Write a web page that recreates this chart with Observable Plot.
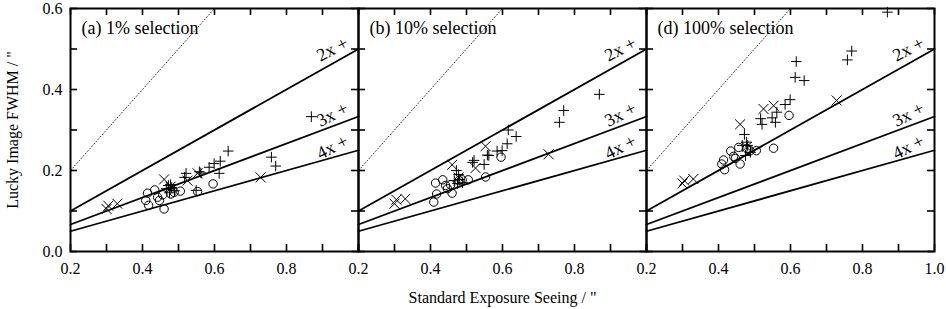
<!DOCTYPE html>
<html>
<head>
<meta charset="utf-8">
<script src="https://cdn.jsdelivr.net/npm/d3@7"></script>
<script src="https://cdn.jsdelivr.net/npm/@observablehq/plot@0.6"></script>
<style>
  html, body { margin: 0; padding: 0; background: #fff; }
  #chart svg { display: block; }
</style>
</head>
<body>
<div id="chart"></div>
<script>
// ---- Panels ----
const panels = ["a", "b", "d"];
const panelTitles = ["(a) 1% selection", "(b) 10% selection", "(d) 100% selection"];

// ---- Axes ----
const xTicks = [0.2, 0.3, 0.4, 0.5, 0.6, 0.7, 0.8, 0.9, 1.0];
const xTickLabels = [0.2, 0.4, 0.6, 0.8];
const xLastLabel = 1.0;
const yTicks = [0.0, 0.1, 0.2, 0.3, 0.4, 0.5, 0.6];
const yTickLabels = [0.0, 0.2, 0.4, 0.6];
const xTitle = 'Standard Exposure Seeing / "';
const yTitle = 'Lucky Image FWHM / "';

// ---- Reference lines (FWHM = seeing / k) ----
const factors = [2, 3, 4];
const factorLabels = ["2x +", "3x +", "4x +"];

// ---- Data: × markers ----
const crossX = [0.300, 0.305, 0.330, 0.460, 0.478, 0.525, 0.553, 0.728];
const crossA = [0.105, 0.113, 0.118, 0.178, 0.160, 0.175, 0.193, 0.183];
const crossB = [0.118, 0.128, 0.130, 0.214, 0.183, 0.206, 0.260, 0.240];
const crossD = [0.168, 0.175, 0.179, 0.314, 0.258, 0.352, 0.360, 0.373];

// ---- Data: + markers ----
const plusX = [0.869, 0.758, 0.770, 0.638, 0.616, 0.613, 0.599, 0.585, 0.562, 0.558, 0.549, 0.521, 0.517, 0.472, 0.478, 0.466, 0.481, 0.489, 0.475];
const plusA = [0.333, 0.233, 0.211, 0.248, 0.223, 0.193, 0.217, 0.208, 0.194, 0.197, 0.151, 0.193, 0.183, 0.163, 0.165, 0.155, 0.158, 0.150, 0.145];
const plusB = [0.388, 0.319, 0.348, 0.284, 0.300, 0.266, 0.249, 0.248, 0.237, 0.238, 0.215, 0.225, 0.220, 0.200, 0.190, 0.175, 0.178, 0.170, 0.168];
const plusD = [0.591, 0.473, 0.495, 0.422, 0.469, 0.430, 0.375, 0.363, 0.344, 0.319, 0.330, 0.314, 0.328, 0.289, 0.270, 0.262, 0.262, 0.245, 0.237];

// ---- Data: ○ markers ----
const circX = [0.596, 0.553, 0.414, 0.417, 0.409, 0.434, 0.442, 0.460, 0.447, 0.456, 0.479, 0.488, 0.505];
const circA = [0.167, 0.148, 0.144, 0.114, 0.126, 0.152, 0.134, 0.105, 0.126, 0.140, 0.142, 0.146, 0.149];
const circB = [0.233, 0.184, 0.169, 0.142, 0.122, 0.177, 0.163, 0.144, 0.155, 0.165, 0.175, 0.177, 0.177];
const circD = [0.336, 0.255, 0.226, 0.202, 0.216, 0.248, 0.235, 0.216, 0.230, 0.257, 0.254, 0.249, 0.249];

// ---- Build tables ----
function rows(xs, ys) {
  return xs.flatMap((x, i) => panels.map((p, j) => ({panel: p, x, y: ys[j][i]})));
}
const crossRows = rows(crossX, [crossA, crossB, crossD]);
const plusRows = rows(plusX, [plusA, plusB, plusD]);
const circRows = rows(circX, [circA, circB, circD]);

const xMin = xTicks[0], xMax = xTicks[xTicks.length - 1];
const lineRows = factors.flatMap(k => [xMin, xMax].map(x => ({k, x, y: x / k})));
const yMax = yTicks[yTicks.length - 1];
const diagRows = [xMin, yMax].map(x => ({x, y: x}));
const labelX = 0.968;
const labelRows = factors.map((k, i) => ({x: labelX, y: labelX / k + 0.034, t: factorLabels[i]}));
const titleRows = panels.map((p, i) => ({panel: p, t: panelTitles[i]}));

// ---- Layout ----
const W = 946, H = 309;
const mL = 70, mR = 12, mT = 8, mB = 58;
const frameW = (W - mL - mR) / panels.length;
const frameH = H - mT - mB;
const tickLen = 7;
const fmt = d3.format(".1f");

const chart = Plot.plot({
  width: W,
  height: H,
  marginLeft: mL,
  marginRight: mR,
  marginTop: mT,
  marginBottom: mB,
  style: {fontFamily: "'Liberation Serif', 'Times New Roman', serif", fontSize: "16px", background: "#fff", color: "#000"},
  fx: {domain: panels, padding: 0, axis: null},
  x: {domain: [xMin, xMax]},
  y: {domain: [yTicks[0], yMax]},
  marks: [
    // reference lines
    Plot.line(diagRows, {x: "x", y: "y", stroke: "#000", strokeWidth: 0.8, strokeDasharray: "1,2.2"}),
    Plot.line(lineRows, {x: "x", y: "y", z: "k", stroke: "#000", strokeWidth: 1.8}),
    Plot.text(labelRows, {x: "x", y: "y", text: "t", textAnchor: "end", lineAnchor: "middle", rotate: -27, fontSize: 18}),
    // data
    Plot.dot(circRows, {fx: "panel", x: "x", y: "y", symbol: "circle", r: 4.2, stroke: "#000", fill: "none", strokeWidth: 1}),
    Plot.dot(crossRows, {fx: "panel", x: "x", y: "y", symbol: "times", r: 4.6, stroke: "#000", strokeWidth: 1}),
    Plot.dot(plusRows, {fx: "panel", x: "x", y: "y", symbol: "plus", r: 3.5, stroke: "#000", strokeWidth: 1}),
    // inward ticks on all sides
    Plot.tickX(xTicks, {x: d => d, insetTop: frameH - tickLen, stroke: "#000", strokeWidth: 1.6}),
    Plot.tickX(xTicks, {x: d => d, insetBottom: frameH - tickLen, stroke: "#000", strokeWidth: 1.6}),
    Plot.tickY(yTicks, {y: d => d, insetRight: frameW - tickLen, stroke: "#000", strokeWidth: 1.6}),
    Plot.tickY(yTicks, {y: d => d, insetLeft: frameW - tickLen, stroke: "#000", strokeWidth: 1.6}),
    Plot.frame({stroke: "#000", strokeWidth: 2}),
    // tick labels
    Plot.axisX(xTickLabels, {tickSize: 0, tickPadding: 11, tickFormat: fmt, label: null}),
    Plot.text([{panel: panels[panels.length - 1], x: xLastLabel}], {fx: "panel", x: "x", text: d => fmt(d.x), frameAnchor: "bottom", lineAnchor: "top", dy: 11}),
    Plot.axisY(yTickLabels, {tickSize: 0, tickPadding: 8, tickFormat: fmt, label: null}),
    // titles
    Plot.text(titleRows, {fx: "panel", text: "t", frameAnchor: "top-left", textAnchor: "start", lineAnchor: "top", dx: 11, dy: 13, fontSize: 18}),
    Plot.text([{panel: panels[0], t: yTitle}], {fx: "panel", text: "t", frameAnchor: "left", textAnchor: "middle", lineAnchor: "middle", rotate: -90, dx: -58, fontSize: 16}),
    Plot.text([{panel: panels[1], t: xTitle}], {fx: "panel", text: "t", frameAnchor: "bottom", textAnchor: "middle", lineAnchor: "middle", dy: 46, fontSize: 16})
  ]
});
document.getElementById("chart").append(chart);
</script>
</body>
</html>
